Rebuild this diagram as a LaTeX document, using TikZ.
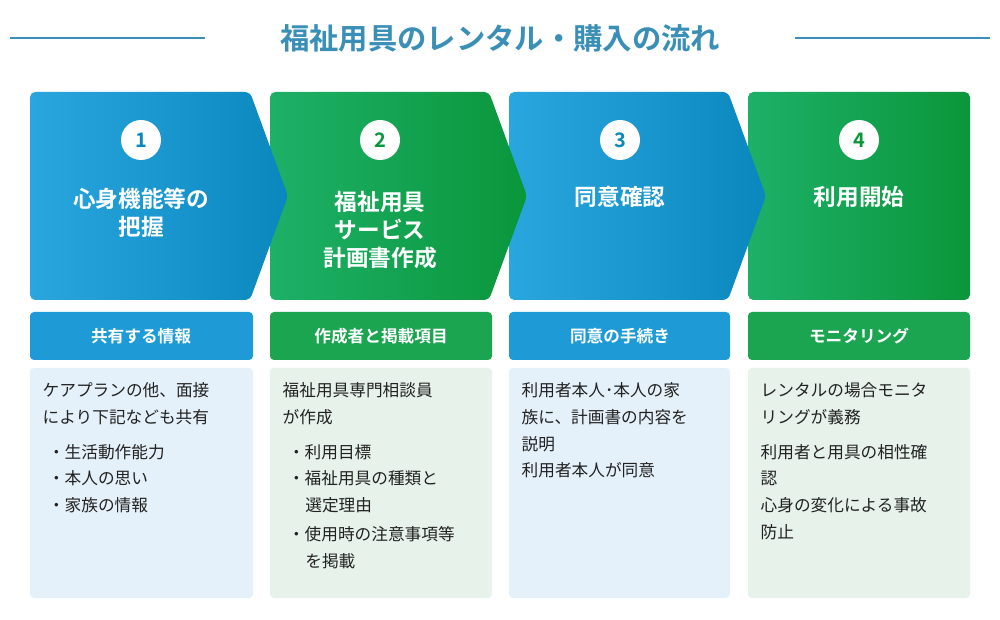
\documentclass[tikz,border=0pt]{standalone}
\usepackage{fontspec}
\setmainfont{Noto Sans CJK JP}
\newfontfamily\cjkb{Noto Sans CJK JP Bold}
\definecolor{tblue}{HTML}{3A8FB7}
\definecolor{bL}{HTML}{2AA6DE}\definecolor{bR}{HTML}{0A88BE}
\definecolor{gL}{HTML}{1DB068}\definecolor{gR}{HTML}{0A963A}
\definecolor{hb}{HTML}{1E9BD7}\definecolor{hg}{HTML}{1CA550}
\definecolor{lb}{HTML}{E5F1FA}\definecolor{lg}{HTML}{E6F2EA}
\definecolor{txt}{HTML}{222222}
\begin{document}
\begin{tikzpicture}[x=0.75pt,y=-0.75pt,
  num/.style={circle,fill=white,minimum size=30pt,inner sep=0pt,font=\cjkb\fontsize{15}{15}\selectfont},
  big/.style={text=white,font=\cjkb\fontsize{17}{21}\selectfont,align=center},
  hdr/.style={text=white,font=\cjkb\fontsize{12.5}{14}\selectfont},
  body/.style={text=txt,font=\fontsize{12.5}{20}\selectfont,align=left,anchor=north west,text width=160pt}]
\useasboundingbox (0,0) rectangle (1000,620);
\fill[white] (0,0) rectangle (1000,620);
\node[text=tblue,font=\cjkb\fontsize{22}{24}\selectfont] (title) at (500,38) {福祉用具のレンタル・購入の流れ};
\draw[tblue,line width=1.5pt] (10,38) -- (205,38);
\draw[tblue,line width=1.5pt] (795,38) -- (990,38);
% arrows (drawn right to left so tips overlap)
\shade[left color=gL,right color=gR,rounded corners=4pt] (748,92) rectangle (970,300);
\shade[left color=bL,right color=bR,rounded corners=4pt] (509,92) -- (728,92) -- (766,196) -- (728,300) -- (509,300) -- cycle;
\shade[left color=gL,right color=gR,rounded corners=4pt] (270,92) -- (489,92) -- (527,196) -- (489,300) -- (270,300) -- cycle;
\shade[left color=bL,right color=bR,rounded corners=4pt] (30,92) -- (250,92) -- (288,196) -- (250,300) -- (30,300) -- cycle;
\node[num,text=bR] (n1) at (141,140) {1};
\node[num,text=gR] (n2) at (380,140) {2};
\node[num,text=bR] (n3) at (620,140) {3};
\node[num,text=gR] (n4) at (859,140) {4};
\node[big] (t1) at (141,213) {心身機能等の\\把握};
\node[big] (t2) at (380,230) {福祉用具\\サービス\\計画書作成};
\node[big] (t3) at (620,197) {同意確認};
\node[big] (t4) at (859,197) {利用開始};
% headers
\fill[hb,rounded corners=3pt] (30,312) rectangle (253,360);
\fill[hg,rounded corners=3pt] (270,312) rectangle (492,360);
\fill[hb,rounded corners=3pt] (509,312) rectangle (730,360);
\fill[hg,rounded corners=3pt] (748,312) rectangle (970,360);
\node[hdr] (h1) at (141,336) {共有する情報};
\node[hdr] (h2) at (381,336) {作成者と掲載項目};
\node[hdr] (h3) at (620,336) {同意の手続き};
\node[hdr] (h4) at (859,336) {モニタリング};
% content boxes
\fill[lb,rounded corners=3pt] (30,368) rectangle (253,598);
\fill[lg,rounded corners=3pt] (270,368) rectangle (492,598);
\fill[lb,rounded corners=3pt] (509,368) rectangle (730,598);
\fill[lg,rounded corners=3pt] (748,368) rectangle (970,598);
\node[body] (b1) at (38,378) {ケアプランの他、面接\\により下記なども共有\\[6pt]
\hspace*{4pt}・生活動作能力\\\hspace*{4pt}・本人の思い\\\hspace*{4pt}・家族の情報};
\node[body] (b2) at (278,378) {福祉用具専門相談員\\が作成\\[6pt]
\hspace*{4pt}・利用目標\\\hspace*{4pt}・福祉用具の種類と\\\hspace*{17pt}選定理由\\[2pt]\hspace*{4pt}・使用時の注意事項等\\\hspace*{17pt}を掲載};
\node[body] (b3) at (517,378) {利用者本人･本人の家\\族に、計画書の内容を\\説明\\利用者本人が同意};
\node[body] (b4) at (756,378) {レンタルの場合モニタ\\リングが義務\\[6pt]
利用者と用具の相性確\\認\\心身の変化による事故\\防止};
\end{tikzpicture}
\end{document}
